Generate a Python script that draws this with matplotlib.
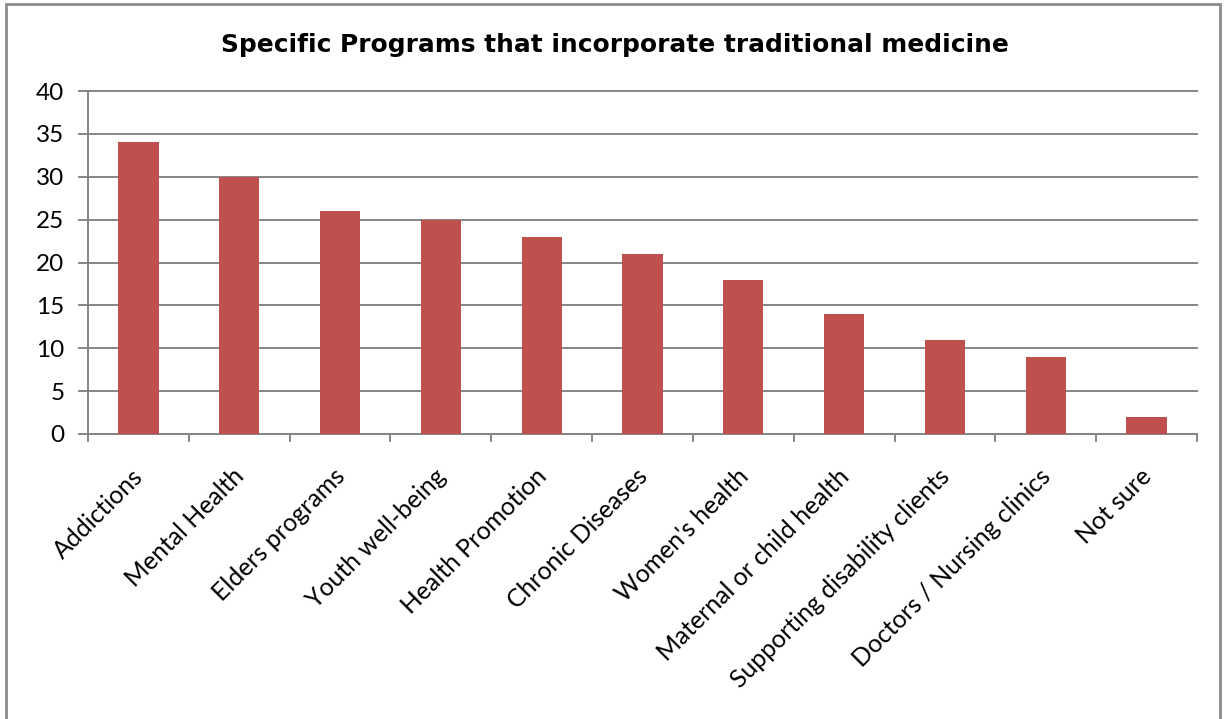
import matplotlib
matplotlib.use("Agg")
import matplotlib.pyplot as plt
import matplotlib.transforms as mtransforms
from matplotlib.patches import Rectangle

# data
categories = ["Addictions", "Mental Health", "Elders programs", "Youth well-being",
              "Health Promotion", "Chronic Diseases", "Women's health",
              "Maternal or child health", "Supporting disability clients",
              "Doctors / Nursing clinics", "Not sure"]
counts = [34, 30, 26, 25, 23, 21, 18, 14, 11, 9, 2]
yticks = [0, 5, 10, 15, 20, 25, 30, 35, 40]

W, H = 1225, 719
label_font = "Lato"
fig = plt.figure(figsize=(W / 100, H / 100), dpi=100)
ax = fig.add_axes([88 / W, 1 - 434 / H, (1197 - 88) / W, (434 - 91) / H])

grey = "#868686"
x = list(range(len(categories)))
ax.bar(x, counts, width=0.4, color="#C0504D", zorder=3)

ax.set_xlim(-0.5, len(categories) - 0.5)
ax.set_ylim(0, 40)
ax.set_yticks(yticks)
ax.set_yticklabels([str(v) for v in yticks], fontsize=17.5, family=label_font)
ax.yaxis.grid(True, color=grey, linewidth=1.4, zorder=0)
for gl in ax.get_ygridlines():
    gl.set_clip_on(False)
ax.tick_params(axis="y", length=7, width=1.4, color=grey, pad=10)

ax.set_xticks(x)
ax.set_xticklabels(categories, rotation=45, ha="right", rotation_mode="anchor",
                   fontsize=17.8, family=label_font)
ax.tick_params(axis="x", which="major", length=0, pad=22)
ax.set_xticks([i - 0.5 for i in range(len(categories) + 1)], minor=True)
ax.tick_params(axis="x", which="minor", length=6, width=1.4, color=grey)

# nudge the slanted labels a little to the left, like the original
shift = mtransforms.ScaledTranslation(-7 / 100, 0, fig.dpi_scale_trans)
for lbl in ax.get_xticklabels():
    lbl.set_transform(lbl.get_transform() + shift)

for side in ("top", "right"):
    ax.spines[side].set_visible(False)
for side in ("left", "bottom"):
    ax.spines[side].set_color(grey)
    ax.spines[side].set_linewidth(1.4)

fig.text(615 / W, 1 - 45 / H, "Specific Programs that incorporate traditional medicine",
         ha="center", va="center", fontsize=17.9, fontweight="bold")

# outer chart frame
fig.patches.append(Rectangle((6 / W, -0.01), (1220 - 6) / W, 1 - 4 / H + 0.01,
                             transform=fig.transFigure, fill=False,
                             edgecolor="#8c8c8c", linewidth=2))

fig.savefig("out.png", dpi=100)
